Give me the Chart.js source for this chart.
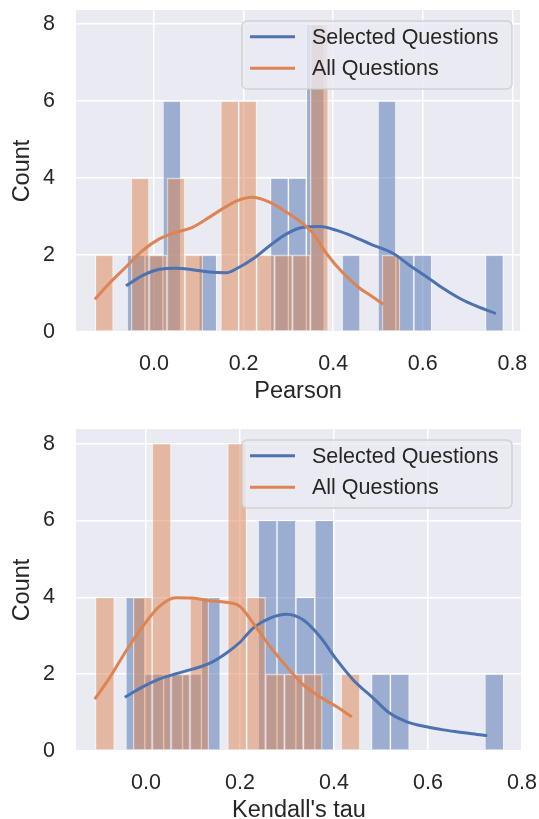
<!DOCTYPE html>
<html><head><meta charset="utf-8">
<script src="https://cdn.jsdelivr.net/npm/chart.js@4.4.1/dist/chart.umd.min.js"></script>
<style>
html,body{margin:0;padding:0;background:#fff;width:539px;height:819px;overflow:hidden;position:relative;}
canvas{position:absolute;left:0;}
#c1{top:0;} #c2{top:419px;}
</style></head><body>
<canvas id="c1" width="539" height="410"></canvas>
<canvas id="c2" width="539" height="410"></canvas>
<script>
// ---------- data ----------
const seriesLabels = ['Selected Questions', 'All Questions'];
const xTicksStep = 0.2;
const yTicksStep = 2;

// Pearson histogram (bin start, bin width, counts per bin)
const pearsonBinWidth = 0.04;
const pearsonSelectedStart = -0.060;
const pearsonSelectedCounts = [2,2,6,0,2,0,0,0,4,4,8,0,2,0,6,2,2,0,0,0,2];
const pearsonAllStart = -0.131;
const pearsonAllCounts = [2,0,4,2,4,2,0,6,6,2,2,2,8,0,0,0,2];
// Pearson KDE curves
const pearsonSelectedKdeX = [-0.0625,-0.025,0.012,0.049,0.086,0.123,0.161,0.185,0.222,0.259,0.296,0.333,0.371,0.408,0.445,0.482,0.534,0.571,0.609,0.646,0.683,0.720,0.763];
const pearsonSelectedKdeY = [1.20,1.47,1.63,1.66,1.62,1.56,1.54,1.65,1.91,2.25,2.55,2.72,2.74,2.64,2.48,2.29,2.04,1.73,1.43,1.13,0.87,0.67,0.48];
const pearsonAllKdeX = [-0.132,-0.100,-0.0625,-0.025,0.012,0.049,0.086,0.123,0.161,0.185,0.218,0.259,0.296,0.333,0.356,0.385,0.423,0.460,0.482,0.512];
const pearsonAllKdeY = [0.85,1.26,1.69,2.12,2.42,2.59,2.72,2.98,3.26,3.41,3.50,3.37,3.11,2.81,2.55,2.04,1.52,1.13,0.96,0.72];

// Kendall histogram
const kendallBinWidth = 0.0402;
const kendallSelectedStart = -0.0428;
const kendallSelectedCounts = [4,2,2,2,4,0,0,6,6,4,6,0,0,2,2,0,0,0,0,2];
const kendallAllStart = -0.1074;
const kendallAllCounts = [4,0,4,8,2,4,0,8,4,2,2,2,0,2];
// Kendall KDE curves
const kendallSelectedKdeX = [-0.045,-0.007,0.028,0.064,0.099,0.135,0.170,0.200,0.228,0.264,0.299,0.335,0.370,0.406,0.441,0.484,0.519,0.555,0.597,0.633,0.668,0.704,0.726];
const kendallSelectedKdeY = [1.40,1.67,1.87,2.01,2.13,2.28,2.54,2.83,3.20,3.46,3.56,3.41,2.98,2.37,1.85,1.37,0.98,0.76,0.63,0.55,0.49,0.43,0.40];
const kendallAllKdeX = [-0.109,-0.078,-0.043,-0.007,0.028,0.064,0.099,0.135,0.170,0.200,0.228,0.264,0.299,0.335,0.370,0.406,0.438];
const kendallAllKdeY = [1.35,1.89,2.59,3.24,3.76,3.99,3.98,3.91,3.87,3.76,3.33,2.72,2.20,1.72,1.41,1.15,0.89];

// ---------- style ----------
const FONT = '"Liberation Sans", Arial, Helvetica, sans-serif';
const TEXT = '#262626';
const BG = '#EAEAF2';
const BLUE = '#4C72B0';
const ORANGE = '#DD8452';
function rgba(hex, a) {
  const n = parseInt(hex.slice(1), 16);
  return `rgba(${(n>>16)&255},${(n>>8)&255},${n&255},${a})`;
}

const bgPlugin = {
  id: 'plotBg',
  beforeDraw(chart) {
    const {ctx, chartArea: a} = chart;
    ctx.save();
    ctx.fillStyle = BG;
    ctx.fillRect(a.left, a.top, a.right - a.left, a.bottom - a.top);
    ctx.restore();
  }
};

const legendPlugin = {
  id: 'boxLegend',
  afterDraw(chart) {
    const {ctx, chartArea: a} = chart;
    const lines = chart.data.datasets.filter(d => d.type === 'line');
    const bx = a.left + 166, by = a.top + 11, bw = 270, bh = 68, r = 5;
    ctx.save();
    ctx.beginPath();
    ctx.moveTo(bx + r, by);
    ctx.arcTo(bx + bw, by, bx + bw, by + bh, r);
    ctx.arcTo(bx + bw, by + bh, bx, by + bh, r);
    ctx.arcTo(bx, by + bh, bx, by, r);
    ctx.arcTo(bx, by, bx + bw, by, r);
    ctx.closePath();
    ctx.fillStyle = 'rgba(234,234,242,0.8)';
    ctx.fill();
    ctx.strokeStyle = 'rgba(204,204,204,0.8)';
    ctx.lineWidth = 1.5;
    ctx.stroke();
    lines.forEach((d, i) => {
      const y = by + 15.7 + i * 31.6;
      ctx.beginPath();
      ctx.moveTo(bx + 8, y);
      ctx.lineTo(bx + 53, y);
      ctx.strokeStyle = d.borderColor;
      ctx.lineWidth = 3;
      ctx.stroke();
      ctx.fillStyle = TEXT;
      ctx.font = `21.5px ${FONT}`;
      ctx.textBaseline = 'middle';
      ctx.textAlign = 'left';
      ctx.fillText(d.label, bx + 70, y + 1);
    });
    ctx.restore();
  }
};

function zeroPad(s) { s.paddingLeft = 0; s.paddingRight = 0; s.paddingTop = 0; s.paddingBottom = 0; }

function buildChart(id, o) {
  const toBars = (start, w, counts) => counts.map((c, i) => ({x: start + (i + 0.5) * w, y: c}));
  const toLine = (xs, ys) => xs.map((x, i) => ({x: x, y: ys[i]}));
  const tickFont = {family: FONT, size: 21.5};
  const titleFont = {family: FONT, size: 23.5};
  new Chart(document.getElementById(id), {
    type: 'bar',
    data: {
      datasets: [
        {type: 'line', label: seriesLabels[0], data: toLine(o.selKdeX, o.selKdeY), borderColor: BLUE,
         borderWidth: 3, pointRadius: 0, cubicInterpolationMode: 'monotone', fill: false, xAxisID: 'x', order: 1},
        {type: 'line', label: seriesLabels[1], data: toLine(o.allKdeX, o.allKdeY), borderColor: ORANGE,
         borderWidth: 3, pointRadius: 0, cubicInterpolationMode: 'monotone', fill: false, xAxisID: 'x', order: 0},
        {type: 'bar', label: seriesLabels[0], data: toBars(o.selStart, o.binWidth, o.selCounts),
         backgroundColor: rgba(BLUE, 0.5), borderColor: 'rgba(255,255,255,0.6)', borderWidth: 1, borderSkipped: false,
         grouped: false, barPercentage: 1, categoryPercentage: 1, xAxisID: 'x', order: 3},
        {type: 'bar', label: seriesLabels[1], data: toBars(o.allStart, o.binWidth, o.allCounts),
         backgroundColor: rgba(ORANGE, 0.5), borderColor: 'rgba(255,255,255,0.6)', borderWidth: 1, borderSkipped: false,
         grouped: false, barPercentage: 1, categoryPercentage: 1, xAxisID: 'x2', order: 2}
      ]
    },
    options: {
      responsive: false, animation: false, devicePixelRatio: 1,
      layout: {padding: {top: 10, right: o.padRight, bottom: 2, left: 0}},
      plugins: {legend: {display: false}, tooltip: {enabled: false}},
      scales: {
        x: {
          type: 'linear', min: o.xMin, max: o.xMax, offset: false,
          grid: {color: '#ffffff', lineWidth: 1.5, drawTicks: false, offset: false},
          border: {display: false},
          ticks: {stepSize: xTicksStep, includeBounds: false, color: TEXT, font: tickFont, padding: 19,
                  maxRotation: 0, autoSkip: false,
                  callback: v => (Math.abs(v) < 1e-9 ? 0 : v).toFixed(1)},
          title: {display: true, text: o.xTitle, color: TEXT, font: titleFont, padding: {top: 0, bottom: 2}},
          afterFit(s) { s.height = 76; zeroPad(s); }
        },
        x2: {
          type: 'linear', display: false, min: o.xMin, max: o.xMax, offset: false,
          grid: {offset: false}, ticks: {stepSize: xTicksStep, includeBounds: false}
        },
        y: {
          type: 'linear', min: 0, max: o.yMax,
          grid: {color: '#ffffff', lineWidth: 1.5, drawTicks: false},
          border: {display: false},
          ticks: {stepSize: yTicksStep, includeBounds: false, color: TEXT, font: tickFont, padding: 21,
                  callback: v => String(Math.round(v))},
          title: {display: true, text: 'Count', color: TEXT, font: titleFont, padding: {top: 8.6, bottom: 0}},
          afterFit(s) { s.width = 76; zeroPad(s); }
        }
      }
    },
    plugins: [bgPlugin, legendPlugin]
  });
}

buildChart('c1', {
  xMin: -0.1741, xMax: 0.817, yMax: 8.37, padRight: 19, xTitle: 'Pearson',
  binWidth: pearsonBinWidth,
  selStart: pearsonSelectedStart, selCounts: pearsonSelectedCounts,
  allStart: pearsonAllStart, allCounts: pearsonAllCounts,
  selKdeX: pearsonSelectedKdeX, selKdeY: pearsonSelectedKdeY,
  allKdeX: pearsonAllKdeX, allKdeY: pearsonAllKdeY
});
buildChart('c2', {
  xMin: -0.1488, xMax: 0.8, yMax: 8.38, padRight: 17, xTitle: "Kendall's tau",
  binWidth: kendallBinWidth,
  selStart: kendallSelectedStart, selCounts: kendallSelectedCounts,
  allStart: kendallAllStart, allCounts: kendallAllCounts,
  selKdeX: kendallSelectedKdeX, selKdeY: kendallSelectedKdeY,
  allKdeX: kendallAllKdeX, allKdeY: kendallAllKdeY
});
</script></body></html>
